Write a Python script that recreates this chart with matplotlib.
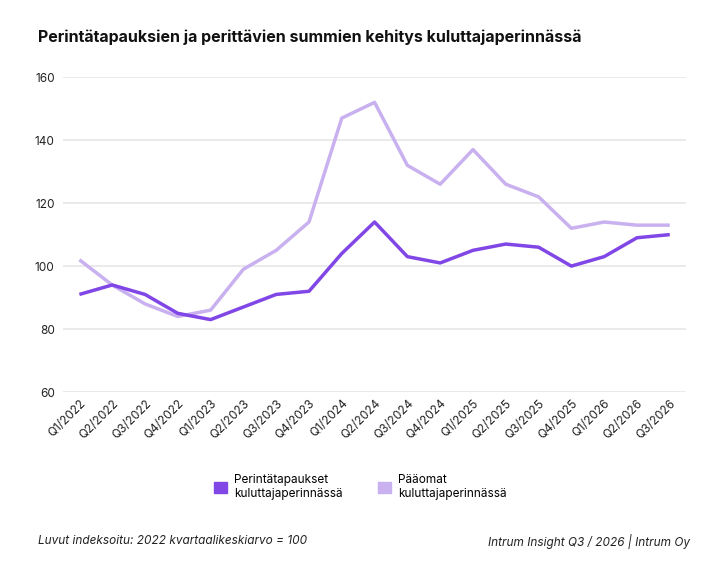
import matplotlib.pyplot as plt
from matplotlib.patches import Patch

# Quarterly index values (2022 quarterly average = 100)
quarters = ["Q1/2022", "Q2/2022", "Q3/2022", "Q4/2022",
            "Q1/2023", "Q2/2023", "Q3/2023", "Q4/2023",
            "Q1/2024", "Q2/2024", "Q3/2024", "Q4/2024",
            "Q1/2025", "Q2/2025", "Q3/2025", "Q4/2025",
            "Q1/2026", "Q2/2026", "Q3/2026"]
cases = [91, 94, 91, 85, 83, 87, 91, 92, 104, 114, 103, 101, 105, 107, 106, 100, 103, 109, 110]
principal = [102, 94, 88, 84, 86, 99, 105, 114, 147, 152, 132, 126, 137, 126, 122, 112, 114, 113, 113]
yticks = [60, 80, 100, 120, 140, 160]

dark = "#8046e6"
light = "#c9b1f0"

plt.rcParams['font.family'] = ['Inter', 'DejaVu Sans']

fig = plt.figure(figsize=(7.2, 5.76), dpi=100)
ax = fig.add_axes([0.0875, 0.3194, 0.8655, 0.5466])

x = list(range(len(quarters)))
ax.plot(x, principal, color=light, linewidth=2.5, solid_capstyle='butt', zorder=3)
ax.plot(x, cases, color=dark, linewidth=2.5, solid_capstyle='butt', zorder=4)

ax.set_ylim(60, 160)
ax.set_yticks(yticks)
ax.set_xlim(-0.5, len(quarters) - 0.5)
ax.set_xticks(x)
ax.set_xticklabels(quarters, rotation=45, ha='right', rotation_mode='anchor')
ax.tick_params(axis='both', length=0, labelsize=8.5, colors='#222222')
ax.tick_params(axis='y', pad=6)
ax.tick_params(axis='x', pad=4)
ax.grid(axis='y', color='#e6e6e6', linewidth=1.2)
ax.set_axisbelow(True)
for s in ax.spines.values():
    s.set_visible(False)

fig.text(0.053, 0.935, "Perintätapauksien ja perittävien summien kehitys kuluttajaperinnässä",
         fontsize=11.5, fontweight='bold', color='#111111', va='center')

handles = [Patch(color=dark, label="Perintätapaukset\nkuluttajaperinnässä"),
           Patch(color=light, label="Pääomat\nkuluttajaperinnässä")]
fig.legend(handles=handles, loc='center', bbox_to_anchor=(0.5, 0.155), ncol=2,
           frameon=False, fontsize=8.5, handlelength=1.1, handleheight=1.1,
           columnspacing=3, handletextpad=0.6)

fig.text(0.053, 0.06, "Luvut indeksoitu: 2022 kvartaalikeskiarvo = 100",
         fontsize=8.5, style='italic', color='#222222', va='center')
fig.text(0.958, 0.06, "Intrum Insight Q3 / 2026 | Intrum Oy",
         fontsize=8.5, style='italic', color='#222222', va='center', ha='right')

fig.savefig("out.png", dpi=100)
